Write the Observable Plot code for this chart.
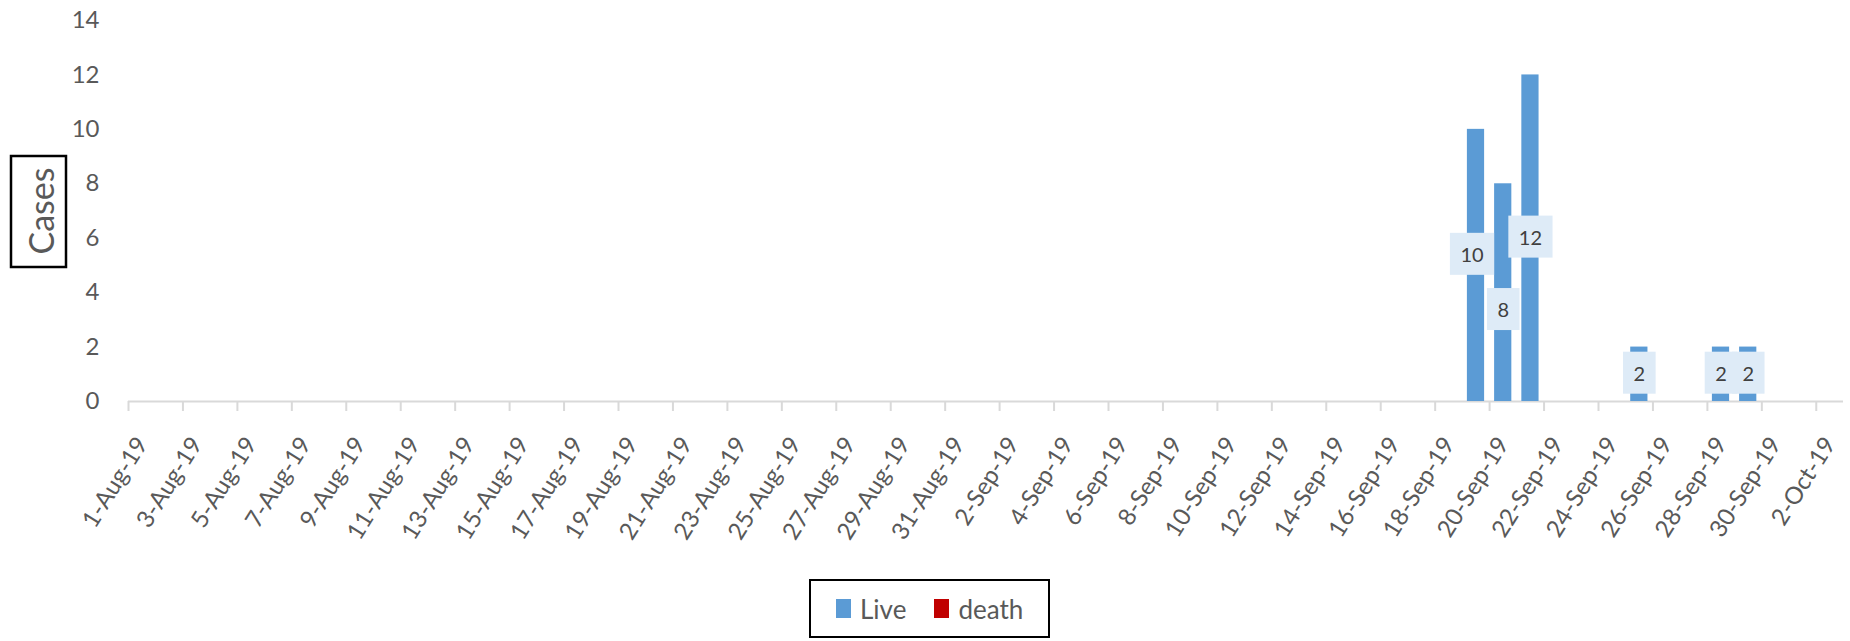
<!DOCTYPE html>
<html>
<head>
<meta charset="utf-8">
<script src="https://cdn.jsdelivr.net/npm/d3@7"></script>
<script src="https://cdn.jsdelivr.net/npm/@observablehq/plot@0.6"></script>
<style>
  html, body { margin: 0; padding: 0; background: #fff; }
  #wrap { position: relative; width: 1850px; height: 641px; font-family: Lato, sans-serif; }
  #legend { position: absolute; left: 809px; top: 579px; width: 241px; height: 59px; box-sizing: border-box;
            border: 2.5px solid #000; display: flex; align-items: center; padding-left: 25px; gap: 0; }
  .item { display: flex; align-items: center; font-size: 26px; color: #595959; margin-right: 28px; }
  .sw { width: 15px; height: 19px; margin-right: 9px; }
</style>
</head>
<body>
<div id="wrap"></div>
<script>
// ---- data ----
const dates = ["2019-09-19", "2019-09-20", "2019-09-21", "2019-09-25", "2019-09-28", "2019-09-29"];
const liveCases = [10, 8, 12, 2, 2, 2];
const deathCases = [0, 0, 0, 0, 0, 0];
const seriesNames = ["Live", "death"];
const seriesColors = ["#5b9bd5", "#c00000"];
const yTicks = [0, 2, 4, 6, 8, 10, 12, 14];
const xTickLabels = ["1-Aug-19","3-Aug-19","5-Aug-19","7-Aug-19","9-Aug-19","11-Aug-19","13-Aug-19","15-Aug-19",
  "17-Aug-19","19-Aug-19","21-Aug-19","23-Aug-19","25-Aug-19","27-Aug-19","29-Aug-19","31-Aug-19",
  "2-Sep-19","4-Sep-19","6-Sep-19","8-Sep-19","10-Sep-19","12-Sep-19","14-Sep-19","16-Sep-19",
  "18-Sep-19","20-Sep-19","22-Sep-19","24-Sep-19","26-Sep-19","28-Sep-19","30-Sep-19","2-Oct-19"];
const domainStart = "2019-08-01", domainEnd = "2019-10-03";

// ---- build tables ----
const parseISO = d3.utcParse("%Y-%m-%d");
const parseLabel = d3.utcParse("%e-%b-%y");
const rows = [];
dates.forEach((d, i) => {
  const date = parseISO(d);
  rows.push({date, end: d3.utcDay.offset(date, 1), series: "Live", value: liveCases[i]});
  rows.push({date, end: d3.utcDay.offset(date, 1), series: "death", value: deathCases[i]});
});
const labelRows = dates.map((d, i) => ({date: parseISO(d), value: liveCases[i], i}));
const mid = d => new Date(+d + 12 * 3600 * 1000);
const tickDates = xTickLabels.map(s => parseLabel(s.replace(/^(\d)-/, " $1-")));

const labelOpts = {x: d => mid(d.date), y: d => d.value / 2, text: d => String(d.value),
  fontSize: 20, fill: "#404040", ariaDescription: "datalabel"};

const plot = Plot.plot({
  width: 1850,
  height: 575,
  marginLeft: 128,
  marginRight: 7,
  marginTop: 20,
  marginBottom: 174,
  style: {fontFamily: "Lato, sans-serif", color: "#595959", background: "#fff"},
  x: {type: "utc", domain: [parseISO(domainStart), parseISO(domainEnd)], axis: null},
  y: {domain: [0, 14], axis: null},
  color: {domain: seriesNames, range: seriesColors},
  marks: [
    Plot.axisY({ticks: yTicks, tickSize: 0, tickPadding: 29, fontSize: 24, label: null, fill: "#595959"}),
    Plot.ruleY([0], {stroke: "#d9d9d9", strokeWidth: 2}),
    Plot.axisX({ticks: tickDates, tickSize: 10, tickFormat: () => "", label: null, stroke: "#d9d9d9", strokeWidth: 2}),
    Plot.text(xTickLabels, {x: (d, i) => mid(tickDates[i]), frameAnchor: "bottom", dy: 38, text: d => d,
      rotate: -58, textAnchor: "end", lineAnchor: "middle", fontSize: 24, fill: "#595959"}),
    Plot.rectY(rows, {x1: "date", x2: "end", y: "value", fill: "series", insetLeft: 5, insetRight: 5}),
    Plot.text(labelRows.filter(d => d.value === 10), {...labelOpts, dx: -4, dy: -10}),
    Plot.text(labelRows.filter(d => d.value === 8), {...labelOpts, dy: 18}),
    Plot.text(labelRows.filter(d => d.value !== 10 && d.value !== 8), labelOpts)
  ]
});

document.getElementById("wrap").appendChild(plot);

// label background boxes
d3.select(plot).selectAll('g[aria-description="datalabel"] text').each(function() {
  const b = this.getBBox();
  const padX = 10.5, padY = 9;
  d3.select(this.parentNode).insert("rect", () => this)
    .attr("transform", this.getAttribute("transform"))
    .attr("x", b.x - padX).attr("y", b.y - padY)
    .attr("width", b.width + 2 * padX).attr("height", b.height + 2 * padY)
    .attr("fill", "#deebf7");
});

// boxed y-axis title
const svg = d3.select(plot);
svg.append("rect").attr("x", 11).attr("y", 156).attr("width", 55).attr("height", 111)
  .attr("fill", "none").attr("stroke", "#000").attr("stroke-width", 2.5);
svg.append("text").attr("transform", "translate(40,211) rotate(-90)")
  .attr("text-anchor", "middle").attr("dominant-baseline", "central")
  .attr("font-size", 34).attr("fill", "#595959").text("Cases");

// legend
const legend = document.createElement("div");
legend.id = "legend";
seriesNames.forEach((name, i) => {
  const it = document.createElement("div");
  it.className = "item";
  it.innerHTML = `<span class="sw" style="background:${seriesColors[i]}"></span><span>${name}</span>`;
  legend.appendChild(it);
});
document.getElementById("wrap").appendChild(legend);
</script>
</body>
</html>
